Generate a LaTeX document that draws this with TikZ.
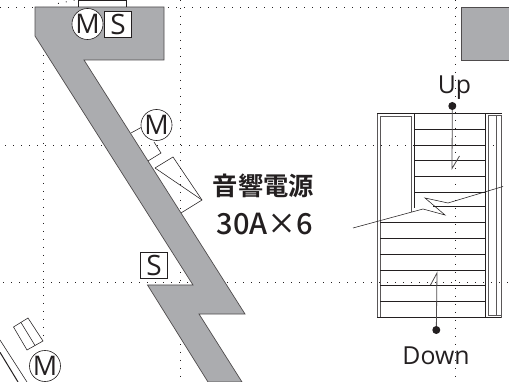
\documentclass[tikz,border=0pt]{standalone}
\usepackage{fontspec}
\setmainfont{Open Sans}
\newfontfamily\cjk{Noto Sans CJK JP}[BoldFont={* Medium}]
\newfontfamily\cjkb{Noto Sans CJK JP Bold}
\definecolor{wallgrey}{HTML}{ABACAF}
\definecolor{inkblack}{HTML}{231F20}
\tikzset{
  grid dots/.style={draw=inkblack,line width=0.9pt,dash pattern=on 0.9pt off 7.1pt},
  wall/.style={fill=wallgrey,draw=inkblack!80,line width=0.7pt,line join=miter},
  thin line/.style={draw=inkblack,line width=0.55pt},
  step line/.style={draw=inkblack,line width=0.8pt},
  double wall/.style={draw=inkblack!75,line width=0.9pt},
  motor/.style={circle,draw=inkblack,fill=white,line width=0.6pt,minimum size=29pt,inner sep=0pt,font=\fontsize{27}{27}\selectfont,text=inkblack},
  switch/.style={rectangle,draw=inkblack,fill=white,line width=0.7pt,minimum size=26.5pt,inner sep=0pt,font=\fontsize{28}{28}\selectfont,text=inkblack},
  cjklabel/.style={inner sep=0pt,text=inkblack,font=\cjkb\fontsize{25.3}{25.3}\selectfont},
  num label/.style={inner sep=0pt,text=inkblack,font=\cjk\bfseries\fontsize{29}{29}\selectfont},
  plain label/.style={inner sep=0pt,text=inkblack,font=\fontsize{24.8}{24.8}\selectfont},
  end dot/.style={circle,fill=inkblack,minimum size=8pt,inner sep=0pt}
}
\begin{document}
\begin{tikzpicture}[x=1pt,y=-1pt]
\useasboundingbox (0,0) rectangle (509,382);
\fill[white] (0,0) rectangle (509,382);
% grid
\draw[grid dots] (0,7) -- (461,7);
\draw[grid dots] (5,145) -- (509,145);
\draw[grid dots] (3,282) -- (509,282);
\draw[grid dots] (43,7) -- (43,337);
\draw[grid dots] (180.5,0) -- (180.5,382);
\draw[grid dots] (455,0) -- (455,382);
\draw[grid dots] (58,3.5) -- (75,0);
% walls
\draw[wall] (35,7) -- (164,7) -- (164,60) -- (84,60) -- (245,314) -- (199,314) -- (242,382) -- (208,382) -- (147.5,285) -- (193,285) -- (35,36) -- cycle;
\draw[wall] (509,7) -- (461.5,7) -- (461.5,60) -- (509,60);
\draw[thin line,fill=white] (78,7) -- (78,0) (126,0) -- (126,7);
\draw[thin line] (78,0.3) -- (126,0.3);
% devices on the shaft
\draw[thin line] (131,133) -- (141,127.5);
\draw[thin line] (154,142) -- (161,153) -- (148,161);
\node[motor] (m2) at (156.5,125) {M};
\node[motor] (m1) at (87.5,24) {M};
\node[switch] (s1) at (118,24.5) {S};
\node[switch] (s2) at (154,265.5) {S};
\coordinate (tbA) at (155,168);
\coordinate (tbB) at (173,157);
\coordinate (tbC) at (202,200);
\coordinate (tbD) at (181,213);
\draw[thin line] (tbA) -- (tbB) -- (tbC) -- (tbD);
\draw[thin line] (tbA) -- (tbC);
% bottom left
\draw[thin line] (13.5,327) -- (28,318) -- (43,341) -- (27,350) -- cycle;
\draw[thin line] (21,322.5) -- (35,345.5);
\node[motor,minimum size=31pt] (m3) at (45,366) {M};
\draw[draw=inkblack,line width=1pt] (0,352.3) -- (18,382);
\draw[thin line] (0,340) -- (27,382);
% stairs
\draw[double wall] (377,113.5) -- (377,317.5);
\draw[double wall] (380.3,116) -- (380.3,317.5);
\draw[double wall] (380.3,116) -- (411.7,116) -- (411.7,212);
\draw[step line] (414.5,113.5) -- (414.5,208);
\draw[step line] (485.7,113.5) -- (485.7,317.5);
\draw[step line] (377,113.5) -- (501.7,113.5);
\draw[step line] (377,317.5) -- (501.7,317.5);
\draw[double wall] (488,115.5) -- (488,315) -- (501.7,315);
\draw[double wall] (488,115.5) -- (501.7,115.5);
\draw[double wall] (496.7,115.5) -- (496.7,315);
\draw[double wall] (501.7,115.5) -- (501.7,317.5);
\foreach \yy in {129,145,160.5,176.5,192}
  \draw[step line] (414.5,\yy) -- (485.7,\yy);
\draw[step line] (433,206) -- (485.7,206);
\foreach \yy in {222.3,238,254,270,285.5,301}
  \draw[step line] (380.3,\yy) -- (485.7,\yy);
% break line
\coordinate (brA) at (353,228);
\coordinate (brB) at (423,209);
\coordinate (brC) at (445,215);
\coordinate (brD) at (425,198);
\coordinate (brE) at (448,203);
\coordinate (brF) at (503,186.5);
\draw[thin line] (brA) -- (brB) -- (brC) -- (brD) -- (brE) -- (brF);
% arrows
\node[end dot] (updot) at (452.3,106) {};
\coordinate (uptip) at (452,168.5);
\coordinate (uptick) at (459.5,156);
\draw[thin line,draw=inkblack!80,line width=0.8pt] (updot) -- (uptip) -- (uptick);
\node[end dot] (downdot) at (436.3,330) {};
\coordinate (downtip) at (437,273);
\coordinate (downtick) at (430.5,285);
\draw[thin line,draw=inkblack!80,line width=0.8pt] (downdot) -- (downtip) -- (downtick);
% labels
\node[plain label] (up) at (454.5,88) {Up};
\node[plain label] (down) at (436,356) {Down};
\node[cjklabel] (title) at (263.5,186) {音響電源};
\node[num label] (amps) at (265,224) {30A×6};
\end{tikzpicture}
\end{document}
